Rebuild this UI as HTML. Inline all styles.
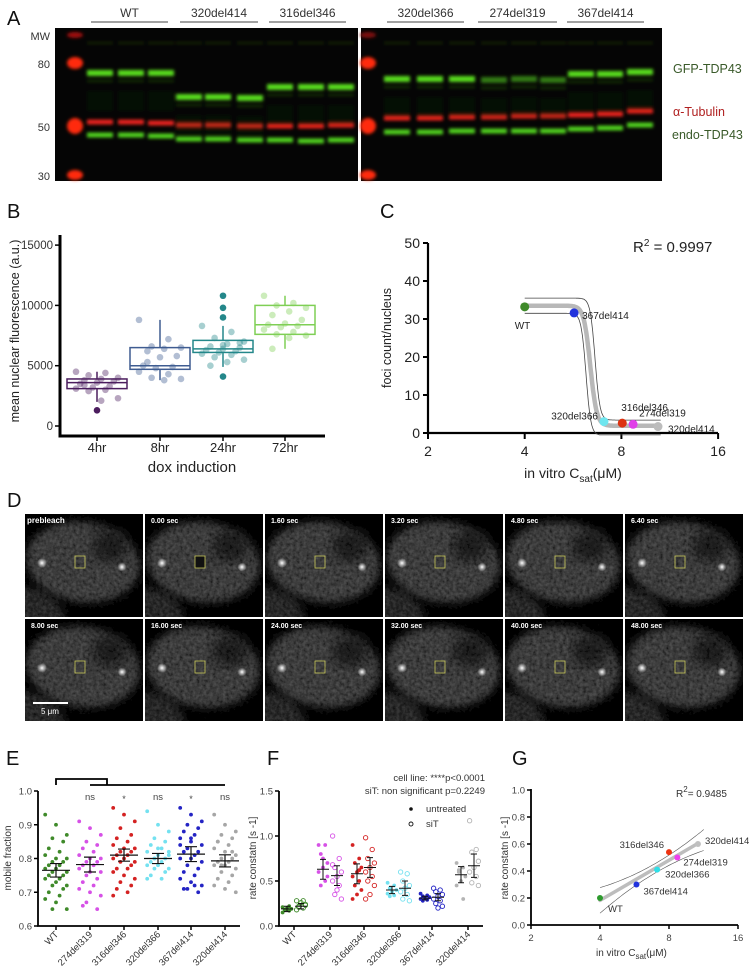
<!DOCTYPE html>
<html><head><meta charset="utf-8">
<style>
html,body{margin:0;padding:0;background:#fff;}
svg{display:block;font-family:"Liberation Sans",Arial,sans-serif;}
</style></head>
<body>
<svg id="fig" width="750" height="974" viewBox="0 0 750 974" xmlns="http://www.w3.org/2000/svg">
<defs>
  <filter id="blur1" x="-20%" y="-100%" width="140%" height="300%"><feGaussianBlur stdDeviation="1.5 1.6"/></filter>
  <filter id="blur3"><feGaussianBlur stdDeviation="4"/></filter>
  <filter id="blur6"><feGaussianBlur stdDeviation="7"/></filter>
  <filter id="grain" x="0" y="0" width="100%" height="100%">
    <feTurbulence type="fractalNoise" baseFrequency="0.3" numOctaves="2" seed="3" result="n"/>
    <feColorMatrix in="n" type="matrix" values="0.9 0 0 0 0  0.9 0 0 0 0  0.9 0 0 0 0  0 0 0 0 1" result="g"/>
    <feBlend in="SourceGraphic" in2="g" mode="multiply" result="m"/>
    <feComponentTransfer in="m"><feFuncR type="linear" slope="1.6"/><feFuncG type="linear" slope="1.6"/><feFuncB type="linear" slope="1.6"/></feComponentTransfer>
  </filter>
  <radialGradient id="spot" cx="50%" cy="50%" r="50%">
    <stop offset="0" stop-color="#fff"/><stop offset="1" stop-color="#fff" stop-opacity="0"/>
  </radialGradient>
</defs>
<g id="panelA"></g>
<g id="panelB"></g>
<g id="panelC"></g>
<g id="panelD"></g>
<g id="panelE"></g>
<g id="panelF"></g>
<g id="panelG"></g>
</svg>
<script>
// ---------- Panel B data ----------
const bCats = ["4hr","8hr","24hr","72hr"];
const bColors = ["#4b1d5e","#3f5c91","#24878a","#7fcf55"];
const bQ1 = [3100,4700,6100,7600];
const bMed = [3600,5000,6400,8400];
const bQ3 = [3900,6500,7100,10000];
const bWlo = [2000,3800,4900,6400];
const bWhi = [4500,8800,8300,10800];
const bOut0 = [1300];
const bOut2 = [9000,9800,10800,4100];
const bPts0 = [4500,4400,4200,4000,3900,3800,3700,3600,3500,3300,3200,3100,3000,2900,2300,2100,3400];
const bPts1 = [8800,7200,6600,6500,6400,6200,5800,5700,5000,4900,4800,4500,4300,4000,3900,3800,5300];
const bPts2 = [8300,7800,7300,7000,6800,6600,6500,6400,6300,6200,6100,6000,5900,5700,5500,5300,5000,6900,6700];
const bPts3 = [10800,10200,10000,9800,9500,9200,8800,8500,8400,8300,8200,8000,7800,7600,7500,7300,6400];
const bYTicks = [0,5000,10000,15000];
// ---------- Panel C data ----------
const cNames = ["WT","367del414","320del366","316del346","274del319","320del414"];
const cColors = ["#3f8a2a","#2233dd","#6fe6ef","#dd3311","#e040e8","#bcbcbc"];
const cCsat = [4.0,5.7,7.06,8.05,8.7,10.4];
const cFoci = [33.2,31.6,3.0,2.6,2.3,1.7];
const cYTicks = [0,10,20,30,40,50];
const cXTicks = [2,4,8,16];
// ---------- Panel E data ----------
const eCats = ["WT","274del319","316del346","320del366","367del414","320del414"];
const eColors = ["#3f8a2a","#d651e6","#d42222","#74e1f0","#2424c4","#a6a6a6"];
const eVals0 = [0.93,0.90,0.87,0.86,0.85,0.83,0.82,0.81,0.80,0.80,0.79,0.79,0.78,0.78,0.77,0.77,0.76,0.76,0.75,0.75,0.74,0.74,0.73,0.72,0.72,0.71,0.70,0.69,0.68,0.67,0.65,0.65];
const eVals1 = [0.91,0.89,0.87,0.85,0.84,0.83,0.82,0.81,0.80,0.80,0.79,0.79,0.78,0.78,0.77,0.76,0.76,0.75,0.74,0.73,0.72,0.71,0.70,0.69,0.67,0.65,0.66];
const eVals2 = [0.95,0.93,0.91,0.89,0.87,0.86,0.85,0.84,0.83,0.83,0.82,0.82,0.81,0.81,0.80,0.80,0.79,0.79,0.78,0.77,0.77,0.76,0.75,0.74,0.73,0.72,0.71,0.70,0.69];
const eVals3 = [0.94,0.90,0.88,0.86,0.85,0.84,0.83,0.82,0.81,0.81,0.80,0.80,0.79,0.79,0.78,0.78,0.77,0.77,0.76,0.75,0.74,0.74,0.83,0.82,0.80];
const eVals4 = [0.95,0.93,0.91,0.90,0.89,0.88,0.87,0.86,0.85,0.84,0.83,0.82,0.82,0.81,0.80,0.80,0.79,0.78,0.77,0.76,0.75,0.74,0.73,0.72,0.71,0.70,0.71,0.72,0.84,0.86];
const eVals5 = [0.93,0.90,0.88,0.87,0.86,0.85,0.84,0.83,0.82,0.81,0.80,0.80,0.79,0.79,0.78,0.78,0.77,0.76,0.75,0.74,0.73,0.72,0.71,0.70,0.78,0.82,0.85];
const eMeans = [0.765,0.782,0.810,0.800,0.813,0.793];
const eSem = [0.020,0.022,0.018,0.015,0.022,0.018];
const eSig = ["","ns","*","ns","*","ns"];
const eYTicks = [0.6,0.7,0.8,0.9,1.0];
// ---------- Panel F data ----------
const fU0=[0.15,0.17,0.18,0.19,0.20,0.21,0.22,0.18], fS0=[0.18,0.20,0.22,0.24,0.26,0.28,0.28,0.21,0.23];
const fU1=[0.90,0.90,0.80,0.70,0.65,0.60,0.50,0.45,0.55,0.75], fS1=[1.00,0.75,0.65,0.60,0.55,0.50,0.45,0.35,0.30,0.40,0.68];
const fU2=[0.90,0.75,0.70,0.65,0.60,0.55,0.50,0.45,0.40,0.35,0.30,0.62], fS2=[0.98,0.85,0.75,0.70,0.65,0.60,0.55,0.50,0.45,0.35,0.30];
const fU3=[0.48,0.45,0.42,0.40,0.38,0.36,0.34,0.33], fS3=[0.60,0.58,0.50,0.45,0.42,0.38,0.35,0.30,0.28];
const fU4=[0.36,0.34,0.33,0.32,0.31,0.30,0.29,0.28], fS4=[0.42,0.40,0.38,0.35,0.33,0.30,0.28,0.25,0.22,0.20];
const fU5=[0.70,0.65,0.60,0.55,0.50,0.45,0.30,0.62], fS5=[1.17,0.85,0.82,0.72,0.65,0.60,0.55,0.48,0.45];
const fMeanU=[0.19,0.63,0.58,0.40,0.31,0.57], fMeanS=[0.22,0.56,0.65,0.42,0.32,0.67];
const fErrU=[0.03,0.11,0.11,0.04,0.02,0.09], fErrS=[0.03,0.11,0.11,0.08,0.04,0.13];
const fYTicks=[0,0.5,1.0,1.5];
// ---------- Panel G data ----------
const gNames = ["WT","367del414","320del366","316del346","274del319","320del414"];
const gCsat = [4.0,5.77,7.1,8.0,8.7,10.7];
const gRate = [0.20,0.30,0.41,0.54,0.50,0.60];
const gYTicks = [0,0.2,0.4,0.6,0.8,1.0];
const gXTicks = [2,4,8,16];

const NS="http://www.w3.org/2000/svg";
function mk(parent,tag,attrs,text){const e=document.createElementNS(NS,tag);for(const k in attrs)e.setAttribute(k,attrs[k]);if(text!==undefined)e.textContent=text;parent.appendChild(e);return e;}
const fmt=v=>String(v);

// ================= Panel A =================
(function(){
 const g=document.getElementById('panelA');
 const t=mk(g,'text',{x:7,y:25,'font-size':20,fill:'#111'},'A');
 
 
 const heads=[["WT",91,168],["320del414",180,258],["316del346",269,346],["320del366",387,464],["274del319",478,557],["367del414",567,644]];
 heads.forEach(h=>{
  const tt=mk(g,'text',{x:(h[1]+h[2])/2,y:17,'font-size':12,'text-anchor':'middle',fill:'#333'},h[0]);
  
  
  const l=mk(g,'line',{x1:h[1],x2:h[2],y1:22,y2:22,stroke:'#444','stroke-width':1});
  
  
 });
 [["MW",36],["80",64],["50",127],["30",176]].forEach(m=>{
  const tt=mk(g,'text',{x:50,y:m[1]+4,'font-size':11,'text-anchor':'end',fill:'#333'},m[0]);
  
  
 });
 const gel1=mk(g,'rect',{x:55,y:28,width:303,height:153,fill:'#050505'});
 
 
 const gel2=mk(g,'rect',{x:361,y:28,width:301,height:153,fill:'#050505'});
 
 
 const bands=mk(g,'g',{filter:'url(#blur1)'});
 
 
 [[75,[[35,'#a01010',3],[63,'#ff2a10',6],[126,'#ff2a10',8],[175,'#ff2a10',5]]],[368,[[35,'#801010',3],[63,'#ff2a10',6],[126,'#ff2a10',8],[175,'#ff2a10',5]]]].forEach(mm=>{
  mm[1].forEach(b=>mk(bands,'ellipse',{cx:mm[0],cy:b[0],rx:8,ry:b[2],fill:b[1]}));
 });
 const lanes=[[100,73,122,135],[131,73,122,135],[161,73,123,136],[189,97,125,139],[218,97,125,139],[250,98,126,140],[280,87,126,140],[311,87,126,141],[341,87,125,140],
  [397,79,118,132],[430,79,118,132],[462,79,117,131],[494,80,117,131],[524,79,116,131],[553,80,116,131],[581,74,115,129],[610,74,114,128],[640,72,111,125]];
 lanes.forEach((l,i)=>{
  const dim = (i>=12&&i<=14)?0.55:1;
  mk(bands,'rect',{x:l[0]-13,y:l[1]-3,width:26,height:6,fill:'#5ce61e','fill-opacity':0.95*dim});
  mk(bands,'rect',{x:l[0]-13,y:l[1]+7,width:26,height:2,fill:'#2a6a10','fill-opacity':0.5});
  mk(bands,'rect',{x:l[0]-13,y:l[2]-2.5,width:26,height:5,fill:'#e8201a'});
  mk(bands,'rect',{x:l[0]-13,y:l[3]-2.5,width:26,height:5,fill:'#4fd01c'});
  mk(bands,'rect',{x:l[0]-13,y:42,width:26,height:2,fill:'#2b4a1a','fill-opacity':0.5});
  mk(bands,'rect',{x:l[0]-13,y:l[1]+18,width:26,height:20,fill:'#123a0a','fill-opacity':0.2});
 });
 [["GFP-TDP43",673,73,'#3a5a2a'],["α-Tubulin",673,116,'#b02020'],["endo-TDP43",672,139,'#3a5a2a']].forEach(s=>{
  const tt=mk(g,'text',{x:s[1],y:s[2],'font-size':12.5,fill:s[3]},s[0]);
  
  
 });
})();

// ================= Panel B =================
(function(){
 const g=document.getElementById('panelB');
 const y=v=>426-(v/5000)*60.3;
 const xc=[97,160,223,285];
 const t=mk(g,'text',{x:7,y:218,'font-size':20,fill:'#111'},'B');
 
 
 const ax=mk(g,'path',{d:'M60,235 V436 H325',fill:'none',stroke:'#000','stroke-width':3});
 
 
 bYTicks.forEach(v=>{
  mk(g,'line',{x1:55,x2:60,y1:y(v),y2:y(v),stroke:'#000','stroke-width':1.5});
  const tt=mk(g,'text',{x:53,y:y(v)+4,'font-size':11.5,'text-anchor':'end',fill:'#333'},fmt(v));
  
  
 });
 bCats.forEach((c,i)=>{
  mk(g,'line',{x1:xc[i],x2:xc[i],y1:436,y2:441,stroke:'#000','stroke-width':1.5});
  const tt=mk(g,'text',{x:xc[i],y:452,'font-size':13,'text-anchor':'middle',fill:'#222'},c);
  
  
 });
 const xt=mk(g,'text',{x:192,y:472,'font-size':15,'text-anchor':'middle',fill:'#222'},'dox induction');
 
 
 const yt=mk(g,'text',{x:0,y:0,'font-size':12.5,'text-anchor':'middle',fill:'#222',transform:'translate(19,331) rotate(-90)'},'mean nuclear fluorescence (a.u.)');
 
 
 const pts=[bPts0,bPts1,bPts2,bPts3];
 const outs=[bOut0,[],bOut2,[]];
 bCats.forEach((c,i)=>{
  const col=bColors[i], x=xc[i], w=30;
  const bx=mk(g,'g',{});
  
  
  mk(bx,'line',{x1:x,x2:x,y1:y(bWhi[i]),y2:y(bQ3[i]),stroke:col,'stroke-width':1.5});
  mk(bx,'line',{x1:x,x2:x,y1:y(bQ1[i]),y2:y(bWlo[i]),stroke:col,'stroke-width':1.5});
  mk(bx,'rect',{x:x-w,y:y(bQ3[i]),width:2*w,height:y(bQ1[i])-y(bQ3[i]),fill:'none',stroke:col,'stroke-width':1.5});
  mk(bx,'line',{x1:x-w,x2:x+w,y1:y(bMed[i]),y2:y(bMed[i]),stroke:col,'stroke-width':1.5});
  pts[i].forEach((v,j)=>{
   const dx=((j*7)%11-5)*4.2;
   const p=mk(bx,'circle',{cx:x+dx,cy:y(v),r:3.3,fill:col,'fill-opacity':0.4});
   
   
  });
  outs[i].forEach(v=>{
   const p=mk(bx,'circle',{cx:x,cy:y(v),r:3.3,fill:col});
   
   
  });
 });
})();

// ================= Panel C =================
(function(){
 const g=document.getElementById('panelC');
 const x=v=>428+Math.log2(v/2)*96.7;
 const y=v=>433-v*3.8;
 const t=mk(g,'text',{x:380,y:218,'font-size':20,fill:'#111'},'C');
 
 
 const ax=mk(g,'path',{d:'M428,243 V433 H718',fill:'none',stroke:'#000','stroke-width':2.2});
 
 
 cYTicks.forEach(v=>{
  mk(g,'line',{x1:423,x2:428,y1:y(v),y2:y(v),stroke:'#000','stroke-width':2});
  const tt=mk(g,'text',{x:420,y:y(v)+5,'font-size':14,'text-anchor':'end',fill:'#222'},fmt(v));
  
  
 });
 cXTicks.forEach(v=>{
  mk(g,'line',{x1:x(v),x2:x(v),y1:433,y2:439,stroke:'#000','stroke-width':2});
  const tt=mk(g,'text',{x:x(v),y:456,'font-size':14,'text-anchor':'middle',fill:'#222'},fmt(v));
  
  
 });
 const xt=mk(g,'text',{x:573,y:478,'font-size':14,'text-anchor':'middle',fill:'#222'});
 xt.innerHTML='in vitro C<tspan font-size="10" dy="4">sat</tspan><tspan dy="-4">(μM)</tspan>';
 
 
 const yt=mk(g,'text',{x:0,y:0,'font-size':12.5,'text-anchor':'middle',fill:'#222',transform:'translate(391,338) rotate(-90)'},'foci count/nucleus');
 
 
 const r2=mk(g,'text',{x:633,y:252,'font-size':15,fill:'#222'});
 r2.innerHTML='R<tspan font-size="10" dy="-6">2</tspan><tspan dy="6"> = 0.9997</tspan>';
 
 
 const top=Math.max(...cFoci)+0.3, bot=Math.min(...cFoci)+0.2;
 const sig=(v,mid,k,tp,bt)=>bt+(tp-bt)/(1+Math.exp((Math.log2(v)-Math.log2(mid))*k));
 function path(mid,k,tp,bt,x0,x1){let d='';for(let i=0;i<=160;i++){const v=x0*Math.pow(x1/x0,i/160);const yy=Math.max(-0.5,sig(v,mid,k,tp,bt));d+=(i?'L':'M')+x(v).toFixed(1)+','+y(yy).toFixed(1);}return d;}
 const mid=6.4;
 const ub=mk(g,'path',{d:path(mid*1.035,40,top+2,bot+1.5,4,10.6),fill:'none',stroke:'#444','stroke-width':0.8});
 
 
 const lb=mk(g,'path',{d:path(mid*0.97,40,top-2,bot-2.5,4,10.6),fill:'none',stroke:'#444','stroke-width':0.8});
 
 
 const fit=mk(g,'path',{d:path(mid,30,top,bot,cCsat[0],cCsat[5]),fill:'none',stroke:'#b8b8b8','stroke-width':4.5,'stroke-linecap':'round'});
 
 
 const lab=[[2,22,'start'],[8,6,'start'],[-6,-2,'end'],[-1,-12,'start'],[6,-8,'start'],[10,6,'start']];
 cNames.forEach((n,i)=>{
  const p=mk(g,'circle',{cx:x(cCsat[i]),cy:y(cFoci[i]),r:4.5,fill:cColors[i]});
  
  
  const tt=mk(g,'text',{x:x(cCsat[i])+lab[i][0]-(i==0?12:0),y:y(cFoci[i])+lab[i][1],'font-size':10,'text-anchor':lab[i][2],fill:'#222'},n);
  
  
 });
})();

// ================= Panel D =================
(function(){
 const g=document.getElementById('panelD');
 const t=mk(g,'text',{x:7,y:507,'font-size':20,fill:'#111'},'D');
 
 
 const labels=["prebleach","0.00 sec","1.60 sec","3.20 sec","4.80 sec","6.40 sec","8.00 sec","16.00 sec","24.00 sec","32.00 sec","40.00 sec","48.00 sec"];
 labels.forEach((lb,i)=>{
  const x0=25+(i%6)*120, y0=i<6?514:619, w=118, h=i<6?103:102;
  const tile=mk(g,'g',{});
  
  
  const cp='cp'+i;
  const c=mk(g.ownerSVGElement.querySelector('defs'),'clipPath',{id:cp});
  mk(c,'rect',{x:x0,y:y0,width:w,height:h});
  const inner=mk(tile,'g',{'clip-path':'url(#'+cp+')'});
  mk(inner,'rect',{x:x0,y:y0,width:w,height:h,fill:'#080808'});
  const cell=mk(inner,'g',{filter:'url(#grain)'});
  mk(cell,'rect',{x:x0,y:y0,width:w,height:h,fill:'#080808'});
  mk(cell,'ellipse',{cx:x0-5,cy:y0+h+5,rx:45,ry:35,fill:'#333',filter:'url(#blur3)'});
  mk(cell,'ellipse',{cx:x0+58,cy:y0+48,rx:57,ry:40,fill:'#4a4a4a',filter:'url(#blur3)',transform:'rotate(8 '+(x0+58)+' '+(y0+48)+')'});
  mk(cell,'ellipse',{cx:x0+85,cy:y0+32,rx:18,ry:16,fill:'#222',filter:'url(#blur6)'});
  mk(inner,'circle',{cx:x0+17,cy:y0+49,r:5,fill:'url(#spot)'});
  mk(inner,'circle',{cx:x0+97,cy:y0+53,r:4.5,fill:'url(#spot)'});
  if(i==1) mk(inner,'rect',{x:x0+50,y:y0+42,width:10,height:12,fill:'#111'});
  const box=mk(tile,'rect',{x:x0+50,y:y0+42,width:10,height:12,fill:'none',stroke:'#c8c85a','stroke-width':0.8});
  
  
  const tt=mk(tile,'text',{x:x0+(i==0?2:6),y:y0+9,'font-size':i==0?8:7,'font-weight':'bold',fill:'#fff'},lb);
  
  
 });
 const sb=mk(g,'line',{x1:33,x2:68,y1:703,y2:703,stroke:'#fff','stroke-width':2});
 
 
 const st=mk(g,'text',{x:41,y:714,'font-size':8,fill:'#fff'},'5 μm');
 
 
})();

// ================= Panel E =================
(function(){
 const g=document.getElementById('panelE');
 const y=v=>926-(v-0.6)/0.4*135;
 const xc=[56,90,124,158,191,225];
 const t=mk(g,'text',{x:6,y:765,'font-size':20,fill:'#111'},'E');
 
 
 const ax=mk(g,'path',{d:'M38,791 V926 H240',fill:'none',stroke:'#000','stroke-width':1.8});
 
 
 eYTicks.forEach(v=>{
  mk(g,'line',{x1:34,x2:38,y1:y(v),y2:y(v),stroke:'#000','stroke-width':1.5});
  const tt=mk(g,'text',{x:32,y:y(v)+3.5,'font-size':9.5,'text-anchor':'end',fill:'#444'},v.toFixed(1));
  
  
 });
 const yt=mk(g,'text',{x:0,y:0,'font-size':10,'text-anchor':'middle',fill:'#333',transform:'translate(11,858) rotate(-90)'},'mobile fraction');
 
 
 const br=mk(g,'path',{d:'M56,785 V779 H107 V785 M90,785 H225',fill:'none',stroke:'#000','stroke-width':1.8});
 
 
 const vals=[eVals0,eVals1,eVals2,eVals3,eVals4,eVals5];
 eCats.forEach((c,i)=>{
  const x=xc[i];
  mk(g,'line',{x1:x,x2:x,y1:926,y2:930,stroke:'#000','stroke-width':1.5});
  const tt=mk(g,'text',{x:0,y:0,'font-size':9.5,'text-anchor':'end',fill:'#333',transform:'translate('+(x+3)+',935) rotate(-45)'},c);
  
  
  if(eSig[i]){const s=mk(g,'text',{x:x,y:eSig[i]=='*'?802:800,'font-size':eSig[i]=='*'?9:9.5,'text-anchor':'middle',fill:'#444'},eSig[i]);
   
   }
  vals[i].forEach((v,j)=>{
   const dx=((j*3)%7-3)*3.6;
   const p=mk(g,'circle',{cx:x+dx,cy:y(v),r:1.9,fill:eColors[i]});
   
   
  });
  const m=mk(g,'path',{d:`M${x-14},${y(eMeans[i])}H${x+14}M${x},${y(eMeans[i]+eSem[i])}V${y(eMeans[i]-eSem[i])}M${x-6},${y(eMeans[i]+eSem[i])}H${x+6}M${x-6},${y(eMeans[i]-eSem[i])}H${x+6}`,stroke:'#111','stroke-width':1.2,fill:'none'});
  
  
 });
})();

// ================= Panel F =================
(function(){
 const g=document.getElementById('panelF');
 const y=v=>926-v/1.5*135;
 const xu=[287,323,357,392,425,461], xs=[301,337,370,405,438,474], xl=[294,330,364,399,432,468];
 const cols=["#3f8a2a","#d651e6","#d42222","#74e1f0","#2424c4","#b4b4b4"];
 const names=["WT","274del319","316del346","320del366","367del414","320del414"];
 const t=mk(g,'text',{x:267,y:765,'font-size':20,fill:'#111'},'F');
 
 
 const ax=mk(g,'path',{d:'M279,791 V926 H483',fill:'none',stroke:'#000','stroke-width':1.8});
 
 
 fYTicks.forEach(v=>{
  mk(g,'line',{x1:275,x2:279,y1:y(v),y2:y(v),stroke:'#000','stroke-width':1.5});
  const tt=mk(g,'text',{x:273,y:y(v)+3.5,'font-size':9.5,'text-anchor':'end',fill:'#444'},v.toFixed(1));
  
  
 });
 const yt=mk(g,'text',{x:0,y:0,'font-size':10,'text-anchor':'middle',fill:'#333',transform:'translate(256,858) rotate(-90)'},'rate constatn [s -1]');
 
 
 [["cell line: ****p<0.0001",781],["siT: non significant p=0.2249",794]].forEach(s=>{
  const tt=mk(g,'text',{x:485,y:s[1],'font-size':9.5,'text-anchor':'end',fill:'#333'},s[0]);
  
  
 });
 const lg=mk(g,'g',{});
 
 
 mk(lg,'circle',{cx:411,cy:809,r:1.8,fill:'#111'});
 mk(lg,'text',{x:426,y:812,'font-size':9.5,fill:'#333'},'untreated');
 mk(lg,'circle',{cx:411,cy:824,r:2,fill:'none',stroke:'#111','stroke-width':0.9});
 mk(lg,'text',{x:426,y:827,'font-size':9.5,fill:'#333'},'siT');
 const U=[fU0,fU1,fU2,fU3,fU4,fU5], S=[fS0,fS1,fS2,fS3,fS4,fS5];
 names.forEach((n,i)=>{
  mk(g,'line',{x1:xl[i],x2:xl[i],y1:926,y2:930,stroke:'#000','stroke-width':1.5});
  const tt=mk(g,'text',{x:0,y:0,'font-size':9.5,'text-anchor':'end',fill:'#333',transform:'translate('+(xl[i]+3)+',935) rotate(-45)'},n);
  
  
  U[i].forEach((v,j)=>{const p=mk(g,'circle',{cx:xu[i]+((j*3)%5-2)*2.2,cy:y(v),r:1.9,fill:cols[i]});
   
   });
  S[i].forEach((v,j)=>{const p=mk(g,'circle',{cx:xs[i]+((j*3)%5-2)*2.2,cy:y(v),r:2.2,fill:'none',stroke:cols[i],'stroke-width':0.9});
   
   });
  [[xu[i],fMeanU[i],fErrU[i]],[xs[i],fMeanS[i],fErrS[i]]].forEach(m=>{
   const e=mk(g,'path',{d:`M${m[0]-6},${y(m[1])}H${m[0]+6}M${m[0]},${y(m[1]+m[2])}V${y(m[1]-m[2])}M${m[0]-3},${y(m[1]+m[2])}H${m[0]+3}M${m[0]-3},${y(m[1]-m[2])}H${m[0]+3}`,stroke:'#111','stroke-width':1,fill:'none'});
   
   
  });
 });
})();

// ================= Panel G =================
(function(){
 const g=document.getElementById('panelG');
 const x=v=>531+Math.log2(v/2)*69;
 const y=v=>925-v*135;
 const cols=["#2d9a2d","#2233dd","#30e0e8","#ee3311","#ee40ee","#c0c0c0"];
 const t=mk(g,'text',{x:512,y:765,'font-size':20,fill:'#111'},'G');
 
 
 const ax=mk(g,'path',{d:'M531,789 V925 H738',fill:'none',stroke:'#000','stroke-width':1.8});
 
 
 gYTicks.forEach(v=>{
  mk(g,'line',{x1:527,x2:531,y1:y(v),y2:y(v),stroke:'#000','stroke-width':1.5});
  const tt=mk(g,'text',{x:525,y:y(v)+3.5,'font-size':9.5,'text-anchor':'end',fill:'#444'},v.toFixed(1));
  
  
 });
 gXTicks.forEach(v=>{
  mk(g,'line',{x1:x(v),x2:x(v),y1:925,y2:929,stroke:'#000','stroke-width':1.5});
  const tt=mk(g,'text',{x:x(v),y:941,'font-size':9.5,'text-anchor':'middle',fill:'#444'},fmt(v));
  
  
 });
 const yt=mk(g,'text',{x:0,y:0,'font-size':10,'text-anchor':'middle',fill:'#333',transform:'translate(508,858) rotate(-90)'},'rate constatn [s -1]');
 
 
 const xt=mk(g,'text',{x:596,y:956,'font-size':10,fill:'#333'});
 xt.innerHTML='in vitro   C<tspan font-size="8" dy="3">sat</tspan><tspan dy="-3">(μM)</tspan>';
 
 
 const r2=mk(g,'text',{x:676,y:797,'font-size':10,fill:'#333'});
 r2.innerHTML='R<tspan font-size="8" dy="-5">2</tspan><tspan dy="5">= 0.9485</tspan>';
 
 
 const lx=gCsat.map(v=>Math.log2(v)), n=lx.length;
 const mx=lx.reduce((a,b)=>a+b)/n, my=gRate.reduce((a,b)=>a+b)/n;
 let sxy=0,sxx=0;lx.forEach((v,i)=>{sxy+=(v-mx)*(gRate[i]-my);sxx+=(v-mx)*(v-mx);});
 const slope=sxy/sxx, icpt=my-slope*mx;
 const f=v=>icpt+slope*Math.log2(v);
 const xa=gCsat[0], xb=Math.max(...gCsat);
 function band(sgn){let d='';for(let i=0;i<=40;i++){const v=xa*Math.pow(xb*1.06/xa,i/40);const l=Math.log2(v);const w=0.035+0.09*(l-mx)*(l-mx);d+=(i?'L':'M')+x(v).toFixed(1)+','+y(f(v)+sgn*w).toFixed(1);}return d;}
 const up=mk(g,'path',{d:band(1),fill:'none',stroke:'#555','stroke-width':0.6});
 
 
 const lo=mk(g,'path',{d:band(-1),fill:'none',stroke:'#555','stroke-width':0.6});
 
 
 const fl=mk(g,'line',{x1:x(xa),y1:y(f(xa)),x2:x(xb),y2:y(f(xb)),stroke:'#bdbdbd','stroke-width':3.5,'stroke-linecap':'round'});
 
 
 const lab=[[8,14,'start'],[7,10,'start'],[8,8,'start'],[-5,-4,'end'],[6,8,'start'],[7,0,'start']];
 gNames.forEach((nm,i)=>{
  const p=mk(g,'circle',{cx:x(gCsat[i]),cy:y(gRate[i]),r:3,fill:cols[i]});
  
  
  const tt=mk(g,'text',{x:x(gCsat[i])+lab[i][0],y:y(gRate[i])+lab[i][1],'font-size':9.5,'text-anchor':lab[i][2],fill:'#333'},nm);
  
  
 });
})();
</script>
</body></html>
